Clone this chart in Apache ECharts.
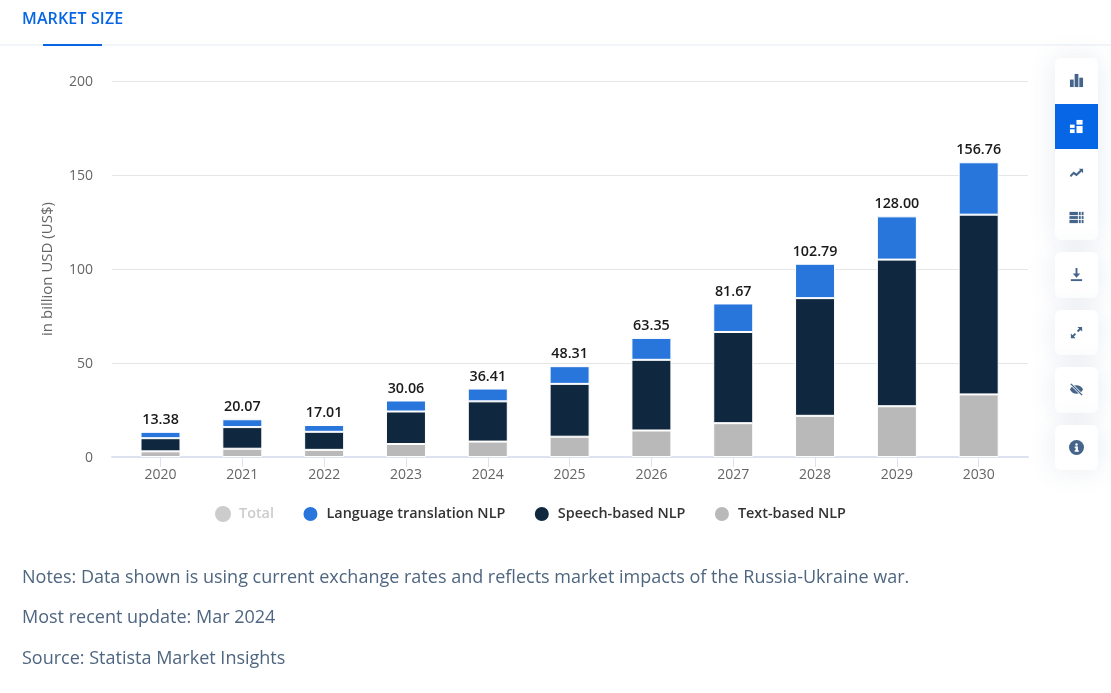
<!DOCTYPE html>
<html>
<head>
<meta charset="utf-8">
<title>Market size</title>
<script src="https://cdn.jsdelivr.net/npm/echarts@6/dist/echarts.min.js"></script>
<style>
  html, body { margin: 0; padding: 0; background: #fff; }
  body { width: 1111px; height: 693px; position: relative; overflow: hidden; font-family: "Open Sans", sans-serif; }
  #chart { position: absolute; left: 0; top: 0; width: 1111px; height: 693px; }
  .tab { position: absolute; left: 22px; top: 7px; font-size: 16px; line-height: 22px; font-weight: 600; color: #0666e5; letter-spacing: .15px; }
  .divider { position: absolute; left: 0; top: 44px; width: 1111px; height: 2px; background: #f2f5fa; }
  .tabline { position: absolute; left: 43px; top: 44px; width: 59px; height: 2px; background: #0666e5; }
  .note { position: absolute; left: 22px; font-size: 18px; line-height: 24px; color: #4f6680; white-space: nowrap; }
  .panel { position: absolute; left: 1055px; width: 43px; background: #fff; border-radius: 6px; box-shadow: 0 0 28px rgba(60, 90, 130, .12); overflow: hidden; }
  .btn { height: 45.5px; display: flex; align-items: center; justify-content: center; }
  .btn.on { background: #0666e5; }
  svg { width: 15px; height: 15px; display: block; fill: #44648a; }
  .on svg { fill: #fff; }
</style>
</head>
<body>
<div id="chart"></div>
<div class="divider"></div>
<div class="tabline"></div>
<div class="tab">MARKET SIZE</div>

<div class="note" style="top:564px">Notes: Data shown is using current exchange rates and reflects market impacts of the Russia-Ukraine war.</div>
<div class="note" style="top:604px">Most recent update: Mar 2024</div>
<div class="note" style="top:645px">Source: Statista Market Insights</div>

<div class="panel" style="top:58px;height:182px">
  <div class="btn"><svg viewBox="0 0 16 16"><rect x="1" y="7" width="4" height="8"/><rect x="6" y="1" width="4" height="14"/><rect x="11" y="5" width="4" height="10"/></svg></div>
  <div class="btn on"><svg viewBox="0 0 16 16"><rect x="1" y="6" width="5" height="3.500"/><rect x="1" y="11" width="5" height="4"/><rect x="8" y="1" width="6.500" height="5"/><rect x="8" y="7.500" width="6.500" height="7.500"/></svg></div>
  <div class="btn"><svg viewBox="0 0 16 16"><path d="M1 12l4-4 3 2 4-4-2-1h5v5l-1.500-2-5.500 5-3-2-3 3z"/></svg></div>
  <div class="btn"><svg viewBox="0 0 16 16"><rect x="0.500" y="2" width="9" height="3.500"/><rect x="10.500" y="2" width="2" height="3.500"/><rect x="13.500" y="2" width="2" height="3.500"/><rect x="0.500" y="6.500" width="9" height="3"/><rect x="10.500" y="6.500" width="2" height="3"/><rect x="13.500" y="6.500" width="2" height="3"/><rect x="0.500" y="10.500" width="9" height="3.500"/><rect x="10.500" y="10.500" width="2" height="3.500"/><rect x="13.500" y="10.500" width="2" height="3.500"/></svg></div>
</div>
<div class="panel" style="top:252px;height:46px"><div class="btn"><svg viewBox="0 0 16 16"><path d="M7 1h2v6h3l-4 4.500-4-4.500h3z"/><rect x="2" y="13" width="12" height="2"/></svg></div></div>
<div class="panel" style="top:310px;height:45px"><div class="btn"><svg viewBox="0 0 16 16"><path d="M9 2h5v5l-1.800-1.800-2.400 2.400-1.400-1.400 2.400-2.400zM7 14H2V9l1.800 1.800 2.400-2.400 1.400 1.400-2.400 2.400z"/></svg></div></div>
<div class="panel" style="top:367px;height:46px"><div class="btn"><svg viewBox="0 0 16 16"><path d="M1 8c1.500-3 4-4.500 7-4.500 3 0 5.500 1.500 7 4.500-1.500 3-4 4.500-7 4.500-3 0-5.500-1.500-7-4.500z"/><path d="M2 2l12 12" stroke="#fff" stroke-width="3"/><path d="M2 2l12 12" stroke="#44648a" stroke-width="1.500"/></svg></div></div>
<div class="panel" style="top:425px;height:45px"><div class="btn"><svg viewBox="0 0 16 16"><circle cx="8" cy="8" r="8"/><rect x="7" y="7" width="2.500" height="5" fill="#fff"/><rect x="6" y="11" width="4.500" height="1.500" fill="#fff"/><rect x="6" y="7" width="3" height="1.300" fill="#fff"/><circle cx="8" cy="4.700" r="1.300" fill="#fff"/></svg></div></div>

<script>
// values
var years = ['2020', '2021', '2022', '2023', '2024', '2025', '2026', '2027', '2028', '2029', '2030'];
var totals = [13.38, 20.07, 17.01, 30.06, 36.41, 48.31, 63.35, 81.67, 102.79, 128.00, 156.76];
var textNlp = [3.0, 4.4, 3.8, 6.9, 8.2, 10.8, 14.1, 18.0, 21.9, 27.0, 33.3];
var speechNlp = [7.0, 11.5, 9.6, 17.3, 21.4, 28.1, 37.6, 48.5, 62.6, 78.0, 95.6];
var languageNlp = [3.38, 4.17, 3.61, 5.86, 6.81, 9.41, 11.65, 15.17, 18.29, 23.0, 27.86];
var yTicks = { min: 0, max: 200, interval: 50 };

var labelFont = '"Open Sans", sans-serif';
var barBorder = { borderColor: '#fff', borderWidth: 1 };

var chart = echarts.init(document.getElementById('chart'));

chart.setOption({
    animation: false,
    // first grid carries the gridlines and the long axis line, second one the bars
    grid: [
        { left: 112, top: 81, width: 916, height: 376 },
        { left: 119.6, top: 81, width: 900, height: 376 }
    ],
    legend: {
        left: 215,
        top: 505,
        padding: 0,
        icon: 'circle',
        itemWidth: 16,
        itemHeight: 16,
        itemGap: 27.5,
        inactiveColor: '#cccccc',
        data: ['Total', 'Language translation NLP', 'Speech-based NLP', 'Text-based NLP'],
        selected: { 'Total': false },
        textStyle: { fontFamily: labelFont, fontSize: 14.4, fontWeight: 600, color: '#333333', padding: [0, 0, 0, 3] }
    },
    xAxis: [
        {
            type: 'category',
            gridIndex: 0,
            data: years,
            axisLine: { lineStyle: { color: '#dde2f0', width: 2 } },
            axisTick: { show: false },
            axisLabel: { show: false },
            splitLine: { show: false }
        },
        {
            type: 'category',
            gridIndex: 1,
            data: years,
            axisLine: { show: true, lineStyle: { color: 'rgba(0,0,0,0)' } },
            axisTick: { show: true, alignWithLabel: true, length: 10, lineStyle: { color: '#dde2f0', width: 1 } },
            axisLabel: { margin: 11, fontFamily: labelFont, fontSize: 14, color: '#666666' }
        }
    ],
    yAxis: [
        {
            type: 'value',
            gridIndex: 0,
            min: yTicks.min,
            max: yTicks.max,
            interval: yTicks.interval,
            name: 'in billion USD (US$)',
            nameLocation: 'middle',
            nameGap: 57,
            nameTextStyle: { fontFamily: labelFont, fontSize: 15, color: '#666666' },
            axisLine: { show: false },
            axisTick: { show: false },
            axisLabel: { margin: 19, verticalAlign: 'top', lineHeight: 3, fontFamily: labelFont, fontSize: 14, color: '#666666' },
            splitLine: { lineStyle: { color: '#e6e6e6', width: 1 } }
        },
        {
            type: 'value',
            gridIndex: 1,
            min: yTicks.min,
            max: yTicks.max,
            interval: yTicks.interval,
            show: false
        }
    ],
    series: [
        {
            name: 'Total',
            type: 'bar',
            xAxisIndex: 1,
            yAxisIndex: 1,
            data: totals,
            itemStyle: { color: '#cccccc' }
        },
        {
            name: 'Text-based NLP',
            type: 'bar',
            stack: 'nlp',
            xAxisIndex: 1,
            yAxisIndex: 1,
            barWidth: 40,
            data: textNlp,
            itemStyle: Object.assign({ color: '#b9b9b9' }, barBorder)
        },
        {
            name: 'Speech-based NLP',
            type: 'bar',
            stack: 'nlp',
            xAxisIndex: 1,
            yAxisIndex: 1,
            barWidth: 40,
            data: speechNlp,
            itemStyle: Object.assign({ color: '#10283f' }, barBorder)
        },
        {
            name: 'Language translation NLP',
            type: 'bar',
            stack: 'nlp',
            xAxisIndex: 1,
            yAxisIndex: 1,
            barWidth: 40,
            data: languageNlp,
            itemStyle: Object.assign({ color: '#2875dc' }, barBorder),
            label: {
                show: true,
                position: 'top',
                distance: 5,
                fontFamily: labelFont,
                fontSize: 14.3,
                fontWeight: 600,
                color: '#1a1a1a',
                formatter: function (p) { return totals[p.dataIndex].toFixed(2); }
            }
        }
    ]
});
</script>
</body>
</html>
